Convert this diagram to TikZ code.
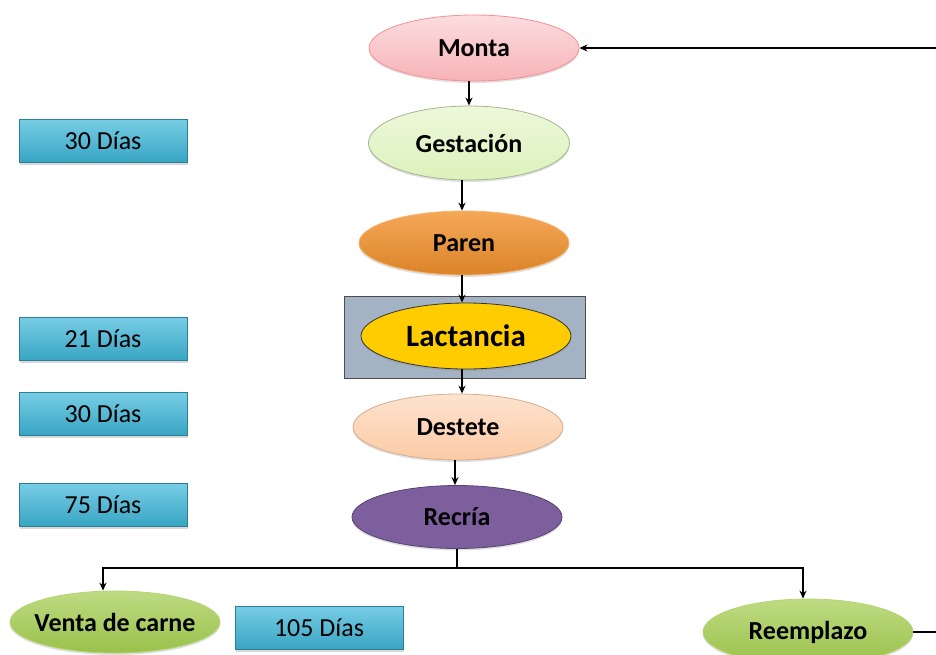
\documentclass[tikz,border=0pt]{standalone}
\usepackage{fontspec}
\setmainfont{Carlito}
\usepackage{tikz}
\usetikzlibrary{arrows.meta,calc,positioning,shadows,shapes.geometric}
\definecolor{montac}{HTML}{F7B3B8}
\definecolor{gestc}{HTML}{DDF2BC}
\definecolor{parenc}{HTML}{F3922E}
\definecolor{lactc}{HTML}{FFCC00}
\definecolor{destc}{HTML}{FCCBA6}
\definecolor{recric}{HTML}{7E5F9E}
\definecolor{salidac}{HTML}{A2CB4E}
\definecolor{diasc}{HTML}{3DB7D9}
\definecolor{marcoc}{HTML}{A4B3C4}
\tikzstyle{etapa}=[
  ellipse,
  font={\fontsize{26}{30}\selectfont\bfseries},
  inner sep=0pt,
  minimum width=210pt,
  minimum height=66pt,
  line width=0.8pt,
  drop shadow={opacity=0.25, shadow xshift=0pt, shadow yshift=-2pt},
]
\tikzstyle{dias}=[
  rectangle,
  font={\fontsize{26}{30}\selectfont},
  inner sep=0pt,
  minimum width=168pt,
  minimum height=43pt,
  draw=diasc!70!black,
  line width=0.6pt,
  top color=diasc!70!white,
  bottom color=diasc!90!black,
  drop shadow={opacity=0.3, shadow xshift=1pt, shadow yshift=-2pt},
]
\tikzstyle{arrow}=[
  color=black,
  draw=black,
  line width=1.4pt,
]
\tikzset{
  >={Stealth[length=8pt,width=7pt]},
}
\begin{document}
\begin{tikzpicture}[x=1pt,y=-1pt]
  \useasboundingbox (0,0) rectangle (936,654);
  %% ciclo
  \node (monta) [etapa, draw=montac!80!red, top color=montac!45!white, bottom color=montac] at (474,48) {Monta};
  \node (gestacion) [etapa, draw=gestc!75!black, top color=gestc!55!white, bottom color=gestc, minimum width=201pt, minimum height=74pt] at (469,143) {Gestación};
  \node (paren) [etapa, draw=parenc!70!white, top color=parenc!80!white, bottom color=parenc!90!black, minimum height=64pt] at (464,243) {Paren};
  \node (marco) [draw=black!70, line width=1pt, fill=marcoc, minimum width=241pt, minimum height=82pt] at (465,337) {};
  \node (lactancia) [etapa, draw=black!80, fill=lactc, drop shadow={opacity=0}, font={\fontsize{31}{34}\selectfont\bfseries}] at (466,336) {Lactancia};
  \node (destete) [etapa, draw=destc!85!black, top color=destc!55!white, bottom color=destc] at (458,427) {Destete};
  \node (recria) [etapa, draw=recric!70!black, fill=recric, minimum height=63pt] at (457,517) {Recría};
  %%
  \node (venta) [etapa, draw=salidac!80!white, top color=salidac!70!white, bottom color=salidac!95!black, minimum height=62pt, inner xsep=-15pt] at (115,622) {Venta de carne};
  \node (reemplazo) [etapa, draw=salidac!80!white, top color=salidac!70!white, bottom color=salidac!95!black] at (808,632) {Reemplazo};
  %% tiempos
  \node (d30a) [dias] at (103,141) {30 Días};
  \node (d21) [dias] at (103,339) {21 Días};
  \node (d30b) [dias] at (103,414) {30 Días};
  \node (d75) [dias] at (103,505) {75 Días};
  \node (d105) [dias] at (319,628) {105 Días};
  %%
  \coordinate (entrada) at (936,48);
  \coordinate (salida) at (936,632);
  \coordinate (split) at (recria.south |- 0,568);
  %%
  \draw [->, arrow] (monta.east -| entrada) -- (monta.east);
  \draw [->, arrow] (gestacion.north |- monta.south) -- (gestacion.north);
  \draw [->, arrow] ($(gestacion.south)+(-7,0)$) -- ($(paren.north)+(-2,0)$);
  \draw [->, arrow] ($(paren.south)+(-2,0)$) -- ($(lactancia.north)+(-4,0)$);
  \draw [->, arrow] ($(lactancia.south)+(-4,0)$) -- ($(destete.north)+(4,0)$);
  \draw [->, arrow] ($(destete.south)+(-3,0)$) -- ($(recria.north)+(-2,0)$);
  \draw [arrow] (recria.south) -- (split);
  \draw [->, arrow] (split) -| ($(venta.north)+(-12,0)$);
  \draw [->, arrow] (split) -| ($(reemplazo.north)+(-5,0)$);
  \draw [arrow] (reemplazo.east) -- (reemplazo.east -| salida);
\end{tikzpicture}
\end{document}
